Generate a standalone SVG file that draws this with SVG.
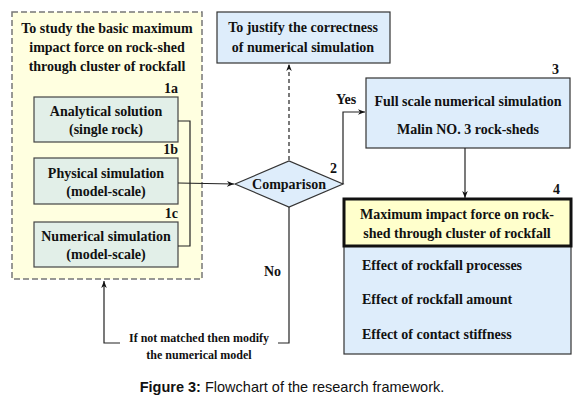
<svg xmlns="http://www.w3.org/2000/svg" width="585" height="403" viewBox="0 0 585 403">
<defs>
<marker id="ah" viewBox="0 0 10 10" refX="10" refY="5" markerWidth="7" markerHeight="7" orient="auto-start-reverse" markerUnits="userSpaceOnUse">
<path d="M0,1 L10,5 L0,9 L3,5 Z" fill="#111"/>
</marker>
<style>
text{font-family:"Liberation Serif","DejaVu Serif","Times New Roman",serif;font-weight:bold;font-size:14px;fill:#111}
.c{text-anchor:middle}
.e{text-anchor:end}
.ln{fill:none;stroke:#222;stroke-width:1.2}
.g{fill:#e2efe8;stroke:#444;stroke-width:1.2}
.b{fill:#deedfb;stroke:#333;stroke-width:1.2}
.cap{font-family:"Liberation Sans",Arial,sans-serif;font-size:14.5px;font-weight:normal}
</style>
</defs>
<rect width="585" height="403" fill="#fff"/>
<g id="study">
<rect x="12" y="12" width="190" height="267" fill="#ffffe0" stroke="#777" stroke-width="1.5" stroke-dasharray="6,3"/>
<text class="c" x="107" y="33">To study the basic maximum</text>
<text class="c" x="107" y="52">impact force on rock-shed</text>
<text class="c" x="107" y="71">through cluster of rockfall</text>
</g>
<g id="n1a">
<rect class="g" x="34" y="97" width="144" height="45"/>
<text class="e" x="178" y="93">1a</text>
<text class="c" x="106" y="116">Analytical solution</text>
<text class="c" x="106" y="134">(single rock)</text>
</g>
<g id="n1b">
<rect class="g" x="34" y="158" width="144" height="46"/>
<text class="e" x="178" y="154">1b</text>
<text class="c" x="106" y="178">Physical simulation</text>
<text class="c" x="106" y="196">(model-scale)</text>
</g>
<g id="n1c">
<rect class="g" x="34" y="222" width="144" height="45"/>
<text class="e" x="178" y="218">1c</text>
<text class="c" x="106" y="241">Numerical simulation</text>
<text class="c" x="106" y="259">(model-scale)</text>
</g>
<g id="justify">
<rect class="b" x="217" y="12" width="173" height="51"/>
<text class="c" x="303" y="32">To justify the correctness</text>
<text class="c" x="303" y="52">of numerical simulation</text>
</g>
<g id="comparison">
<polygon class="b" points="235,184 289,161 343,184 289,207"/>
<text class="c" x="289" y="189">Comparison</text>
<text class="e" x="337" y="173">2</text>
</g>
<g id="full">
<rect class="b" x="366" y="78" width="204" height="70"/>
<text class="e" x="559" y="74">3</text>
<text class="c" x="468" y="106">Full scale numerical simulation</text>
<text class="c" x="468" y="134">Malin NO. 3 rock-sheds</text>
</g>
<g id="maximum">
<rect class="b" x="344" y="199" width="227" height="155"/>
<rect x="344" y="199" width="227" height="47" fill="#ffffcc" stroke="#111" stroke-width="3"/>
<text class="e" x="560" y="194">4</text>
<text class="c" x="457" y="219">Maximum impact force on rock-</text>
<text class="c" x="457" y="238">shed through cluster of rockfall</text>
<text x="362" y="270">Effect of rockfall processes</text>
<text x="362" y="304">Effect of rockfall amount</text>
<text x="362" y="339">Effect of contact stiffness</text>
</g>
<g id="connectors">
<polyline class="ln" points="178,121 190,121 190,246 178,246"/>
<line class="ln" x1="178" y1="183" x2="234" y2="184" marker-end="url(#ah)"/>
<line class="ln" x1="289" y1="160" x2="289" y2="64" stroke-dasharray="4,3" marker-end="url(#ah)"/>
<polyline class="ln" points="343,184 343,112 365,112" marker-end="url(#ah)"/>
<line class="ln" x1="465" y1="148" x2="465" y2="198" marker-end="url(#ah)"/>
<polyline class="ln" points="289,207 289,343 278,343"/>
<polyline class="ln" points="120,343 104,343 104,281" marker-end="url(#ah)"/>
<text x="336" y="104">Yes</text>
<text x="264" y="276">No</text>
<text class="c" x="199" y="342" style="font-size:12px">If not matched then modify</text>
<text class="c" x="199" y="359" style="font-size:12px">the numerical model</text>
</g>
<text class="c cap" x="292" y="392"><tspan font-weight="bold">Figure 3:</tspan> Flowchart of the research framework.</text>
</svg>
